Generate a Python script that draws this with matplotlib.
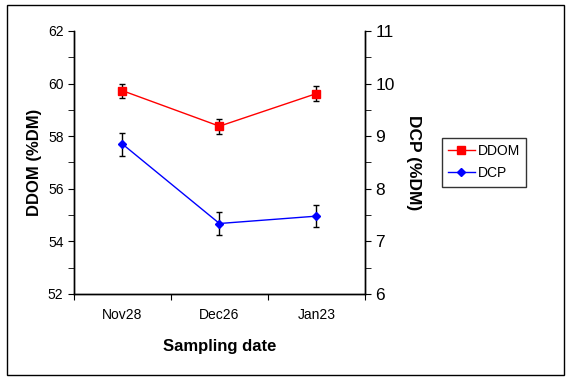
import matplotlib
matplotlib.use("Agg")
import matplotlib.pyplot as plt
from matplotlib.patches import Rectangle
from matplotlib.ticker import MultipleLocator

plt.rcParams['font.family'] = ['Liberation Sans', 'DejaVu Sans']

dates = ["Nov28", "Dec26", "Jan23"]
ddom = [59.73, 58.38, 59.62]
ddom_err = [0.27, 0.28, 0.28]
dcp = [8.85, 7.34, 7.48]
dcp_err = [0.22, 0.215, 0.21]

fig = plt.figure(figsize=(5.66, 3.77), dpi=100)
ax = fig.add_axes([0.1307, 0.2202, 0.514, 0.6976])
ax2 = ax.twinx()

x = list(range(len(dates)))

ax.errorbar(x, ddom, yerr=ddom_err, fmt='none', ecolor='black', elinewidth=1, capsize=2.5, zorder=2)
l1, = ax.plot(x, ddom, color='red', marker='s', markersize=5.5, lw=1, label='DDOM', zorder=3)
ax2.errorbar(x, dcp, yerr=dcp_err, fmt='none', ecolor='black', elinewidth=1, capsize=2.5, zorder=2)
l2, = ax2.plot(x, dcp, color='blue', marker='D', markersize=4.5, lw=1, label='DCP', zorder=3)

ax.set_xlim(-0.5, 2.5)
ax.set_ylim(52, 62)
ax2.set_ylim(6, 11)
ax.yaxis.set_major_locator(MultipleLocator(2))
ax.yaxis.set_minor_locator(MultipleLocator(1))
ax2.yaxis.set_major_locator(MultipleLocator(1))
ax2.yaxis.set_minor_locator(MultipleLocator(0.5))

ax.set_xticks([-0.5, 0.5, 1.5, 2.5])
ax.set_xticklabels([])
ax.set_xticks(x, minor=True)
ax.set_xticklabels(dates, minor=True, fontsize=10)
ax.tick_params(axis='x', which='major', length=4, direction='out')
ax.tick_params(axis='x', which='minor', length=0, pad=10)

ax.tick_params(axis='y', which='major', length=4, direction='out', labelsize=10)
ax.tick_params(axis='y', which='minor', length=4, direction='out')
ax2.tick_params(axis='y', which='major', length=4, direction='out', labelsize=12.5)
ax2.tick_params(axis='y', which='minor', length=4, direction='out')

for a in (ax, ax2):
    a.spines['top'].set_visible(False)
    for s in a.spines.values():
        s.set_linewidth(1)

ax.set_ylabel("DDOM (%DM)", fontsize=12, fontweight='bold', labelpad=4)
ax2.set_ylabel("DCP (%DM)", fontsize=12.5, fontweight='bold', rotation=-90, labelpad=19)
ax.set_xlabel("Sampling date", fontsize=12, fontweight='bold', labelpad=12)

leg = fig.legend(handles=[l1, l2], loc='center left', bbox_to_anchor=(0.781, 0.57),
                 borderaxespad=0, fontsize=10, frameon=True, fancybox=False,
                 edgecolor='black', handlelength=1.9, handletextpad=0.2,
                 borderpad=0.45, labelspacing=0.6)
leg.get_frame().set_linewidth(1)

fig.patches.append(Rectangle((7 / 566, 1 - 375 / 377), 557 / 566, 370 / 377,
                             transform=fig.transFigure, fill=False, edgecolor='black', lw=1))

fig.savefig("out.png", dpi=100)
